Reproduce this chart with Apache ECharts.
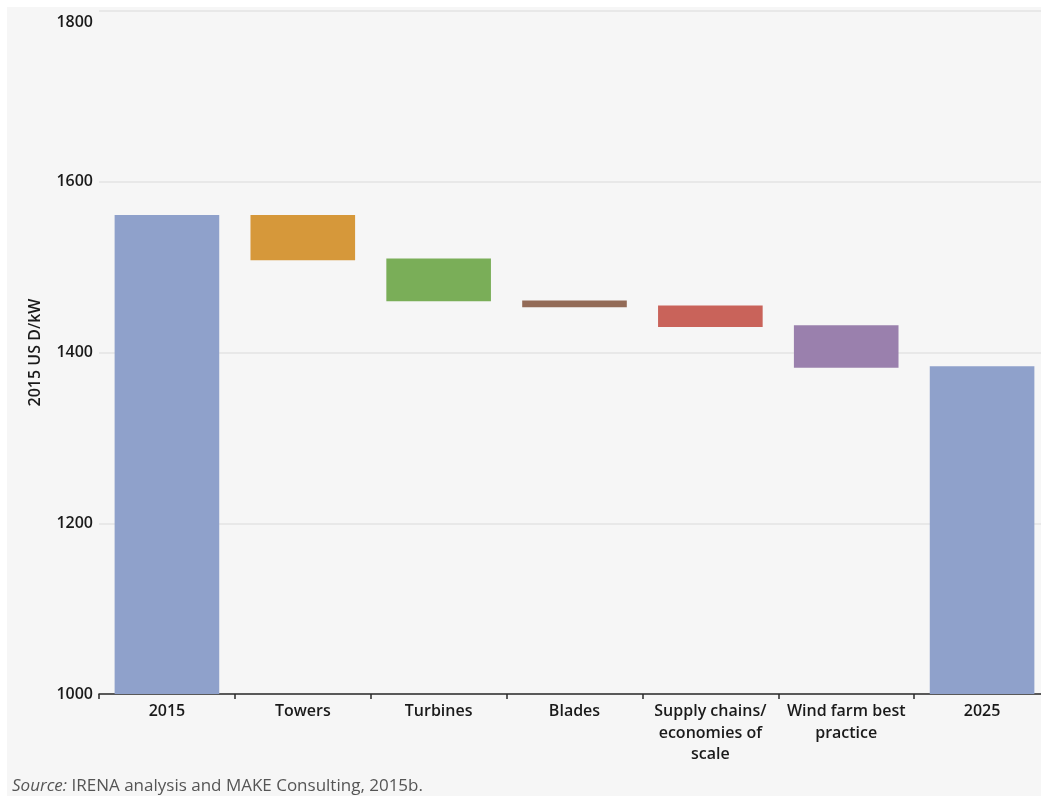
<!DOCTYPE html>
<html>
<head>
<meta charset="utf-8">
<script src="https://cdn.jsdelivr.net/npm/echarts@6/dist/echarts.min.js"></script>
<style>
  html, body { margin: 0; padding: 0; background: #ffffff; }
  #panel { position: absolute; left: 7px; top: 7px; width: 1034px; height: 789px; background: #f6f6f6; }
  #chart { position: absolute; left: 0; top: 0; width: 1041px; height: 796px; }
</style>
</head>
<body>
<div id="panel"></div>
<div id="chart"></div>
<script>
// Cost steps from 2015 to 2025 (2015 USD/kW)
const categories = ['2015', 'Towers', 'Turbines', 'Blades', 'Supply chains/\neconomies of\nscale', 'Wind farm best\npractice', '2025'];
// bottom of each floating step (null = bar starts at the axis)
const stepLow = [null, 1508, 1460, 1453, 1430, 1382, null];
// top of each bar
const stepHigh = [1561, 1561, 1510, 1461, 1455, 1432, 1384];
const barColors = ['#8fa1cb', '#d6983a', '#7aae58', '#936b57', '#c9635a', '#9a80ad', '#8fa1cb'];
const yTicks = { min: 1000, max: 1800, interval: 200 };

const font = '"Open Sans", "Noto Sans", sans-serif';

const baseData = stepLow.map(v => (v === null ? 0 : v));
const spanData = stepHigh.map((h, i) => ({
  value: h - baseData[i],
  itemStyle: { color: barColors[i] }
}));

const chart = echarts.init(document.getElementById('chart'), null, { renderer: 'canvas' });
chart.setOption({
  backgroundColor: 'transparent',
  animation: false,
  // the plot runs slightly past the right edge of the panel
  grid: { left: 99, right: -9, top: 11, bottom: 102, containLabel: false, outerBoundsMode: 'none' },
  xAxis: {
    type: 'category',
    data: categories,
    axisLine: { lineStyle: { color: '#2a2a2a', width: 1.5 } },
    axisTick: { show: true, length: 5, lineStyle: { color: '#2a2a2a', width: 1.5 } },
    axisLabel: {
      interval: 0,
      margin: 7,
      fontFamily: font,
      fontSize: 16,
      lineHeight: 21.5,
      color: '#1a1a1a',
      fontWeight: 600
    }
  },
  yAxis: {
    type: 'value',
    min: yTicks.min,
    max: yTicks.max,
    interval: yTicks.interval,
    name: '2015 US D/kW',
    nameLocation: 'middle',
    nameGap: 56,
    nameRotate: 90,
    nameTextStyle: { fontFamily: font, fontSize: 16, color: '#1a1a1a', fontWeight: 600 },
    axisLine: { show: false },
    axisTick: { show: false },
    axisLabel: {
      margin: 6,
      fontFamily: font,
      fontSize: 16,
      color: '#1a1a1a',
      fontWeight: 600,
      // the top label sits a little below its gridline
      formatter: v => (v === yTicks.max ? '{top|' + v + '}' : String(v)),
      rich: {
        top: { fontFamily: font, fontSize: 16, fontWeight: 600, color: '#1a1a1a', padding: [22, 0, 0, 0] }
      }
    },
    splitLine: { lineStyle: { color: '#e3e3e3', width: 1.5 } }
  },
  series: [
    {
      type: 'bar',
      stack: 'wf',
      data: baseData,
      itemStyle: { color: 'transparent' },
      barWidth: '77%',
      silent: true
    },
    {
      type: 'bar',
      stack: 'wf',
      data: spanData,
      barWidth: '77%'
    }
  ],
  graphic: [
    {
      type: 'text',
      left: 12,
      top: 778,
      style: {
        text: '{i|Source:} IRENA analysis and MAKE Consulting, 2015b.',
        fontFamily: font,
        fontSize: 17,
        fill: '#555555',
        rich: {
          i: { fontFamily: font, fontSize: 17, fontStyle: 'italic', fill: '#555555' }
        }
      }
    }
  ]
});
</script>
</body>
</html>
